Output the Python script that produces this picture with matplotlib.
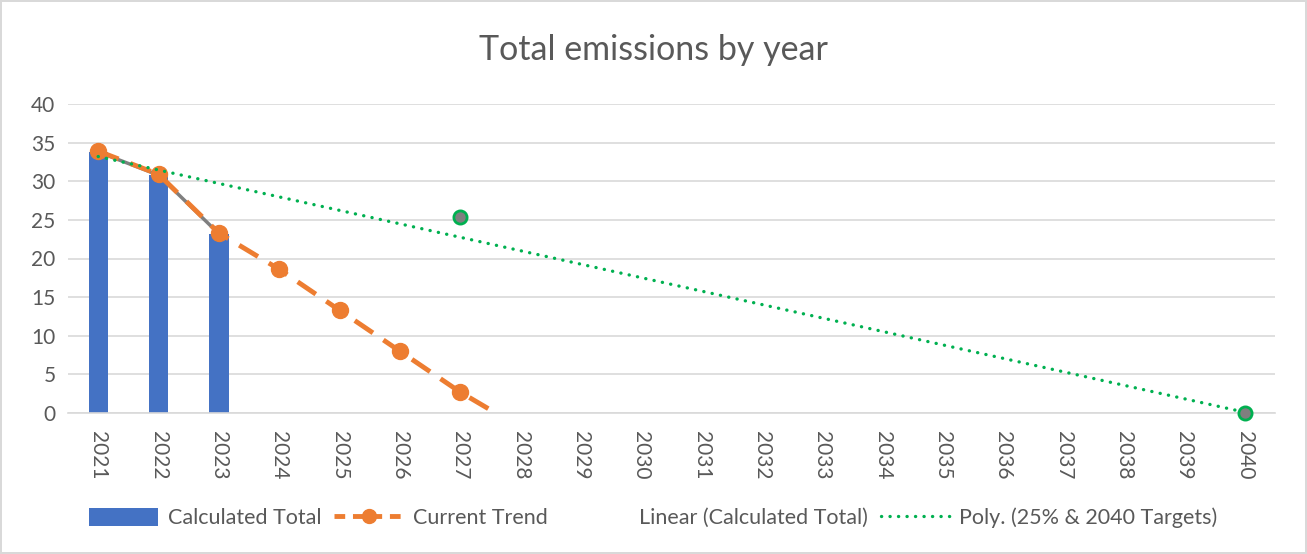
import matplotlib.pyplot as plt
from matplotlib.lines import Line2D
from matplotlib.patches import Patch
import numpy as np

plt.rcParams['font.family'] = ['Lato', 'DejaVu Sans']

years = [str(y) for y in range(2021, 2041)]

# Calculated Total (bars) and the gray connecting line
calc_years = ['2021', '2022', '2023']
calc_total = [33.8, 30.8, 23.2]

# Current Trend (orange dashed)
trend_years = ['2021', '2022', '2023', '2024', '2025', '2026', '2027', '2028']
trend_vals = [33.9, 30.9, 23.3, 18.6, 13.3, 8.0, 2.7, -1.9]

# 25% & 2040 targets and their poly trend
target_years = ['2027', '2040']
target_vals = [25.4, 0.0]
poly_years = ['2021', '2040']
poly_vals = [33.2, 0.1]

text_col = '#595959'
grid_col = '#d9d9d9'
blue = '#4472c4'
orange = '#ed7d31'
green = '#00b050'
gray = '#7f7f7f'

pos = {y: i for i, y in enumerate(years)}

fig = plt.figure(figsize=(13.07, 5.54), dpi=100)
fig.patch.set_edgecolor(grid_col)
fig.patch.set_linewidth(1.5)
ax = fig.add_axes([68 / 1307, 1 - 413 / 554, (1275 - 68) / 1307, (413 - 104) / 554])

ax.bar([pos[y] for y in calc_years], calc_total, width=0.32, color=blue, zorder=2)
ax.plot([pos[y] for y in calc_years], calc_total, color=gray, lw=2.5, zorder=3)
ax.plot([pos[y] for y in trend_years], trend_vals, color=orange, lw=3.5,
        linestyle=(0, (4.5, 2.6)), marker='o', markersize=11.5, zorder=4)
ax.plot([pos[y] for y in poly_years], poly_vals, color=green, lw=2.4,
        linestyle=(0, (0.05, 2.5)), dash_capstyle='round', zorder=5)
ax.plot([pos[y] for y in target_years], target_vals, linestyle='none', marker='o',
        markersize=9.5, markerfacecolor=gray, markeredgecolor=green,
        markeredgewidth=2, zorder=6, clip_on=False)

ax.set_xlim(-0.5, len(years) - 0.5)
ax.set_ylim(0, 40)
ax.set_yticks(np.arange(0, 41, 5))
ax.set_xticks(range(len(years)))
ax.set_xticklabels(years, rotation=-90)
ax.tick_params(axis='both', length=0, labelsize=15, colors=text_col)
ax.tick_params(axis='x', pad=13)
ax.tick_params(axis='y', pad=9)
ax.grid(axis='y', color=grid_col, lw=1.2, zorder=0)
for s in ['top', 'right', 'left']:
    ax.spines[s].set_visible(False)
ax.spines['bottom'].set_color(grid_col)
ax.spines['bottom'].set_linewidth(1.2)

fig.text(0.5, 1 - 50 / 554, 'Total emissions by year', ha='center', va='center',
         fontsize=24.5, color=text_col)

handles = [
    Patch(facecolor=blue, edgecolor='none'),
    Line2D([], [], color=orange, lw=3.5, linestyle=(0, (2.2, 1.6)), marker='o', markersize=10),
    Line2D([], [], color='none'),
    Line2D([], [], color=green, lw=2.4, linestyle=(0, (0.05, 2.5)), dash_capstyle='round'),
]
labels = ['Calculated Total', 'Current Trend', 'Linear (Calculated Total)',
          'Poly. (25% & 2040 Targets)']
fig.legend(handles, labels, loc='center', bbox_to_anchor=(0.5, 1 - 518 / 554),
           ncol=4, frameon=False, fontsize=15.5, labelcolor=text_col,
           handlelength=3.2, handleheight=0.9, columnspacing=0.6, handletextpad=0.45)

fig.savefig('out.png', dpi=100)
